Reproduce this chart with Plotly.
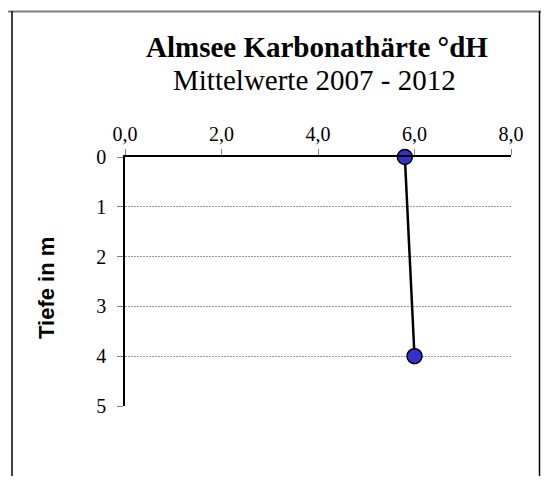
import plotly.graph_objects as go

# Almsee Karbonathärte, Mittelwerte 2007 - 2012
tiefe = [0, 4]              # m
karbonathaerte = [5.8, 6.0]  # °dH

x_ticks = [0, 2, 4, 6, 8]
x_labels = ["0,0", "2,0", "4,0", "6,0", "8,0"]
y_ticks = [0, 1, 2, 3, 4, 5]

# the page body has an 8px margin, so the figure starts at (8, 8) in the window;
# keep it small enough that the page does not scroll
OFF = 8
W, H = 549 - OFF, 484 - 2 * OFF
ml, mr, mt = 125 - OFF, 38, 156.5 - OFF
mb = H - mt - 250
pw, ph = W - ml - mr, H - mt - mb


def px(x):
    return (x - OFF - ml) / pw


def py(y):
    return 1 - (y - OFF - mt) / ph


serif = "Liberation Serif, Times New Roman, serif"
sans = "Liberation Sans, Arial, sans-serif"

fig = go.Figure()
fig.add_trace(go.Scatter(
    x=karbonathaerte, y=tiefe, mode="lines+markers",
    line=dict(color="black", width=2.5),
    marker=dict(size=15, color="#3333CC", line=dict(color="black", width=1.5)),
    cliponaxis=False, showlegend=False,
))

fig.update_layout(
    width=W, height=H,
    margin=dict(l=ml, r=mr, t=mt, b=mb, pad=0),
    paper_bgcolor="white", plot_bgcolor="white",
    xaxis=dict(
        side="top", range=[0, 8], tickvals=x_ticks, ticktext=x_labels,
        showgrid=False, zeroline=False, showline=True, linecolor="black", linewidth=1.5,
        ticks="outside", ticklen=6, tickcolor="#808080", tickwidth=1,
        tickfont=dict(family=serif, size=20, color="black"), ticklabelstandoff=0,
    ),
    yaxis=dict(
        range=[5, 0], tickvals=y_ticks, showgrid=True, gridcolor="#999999", gridwidth=1.2,
        griddash="2px,1px", zeroline=False, showline=True, linecolor="black", linewidth=1.5,
        ticks="outside", ticklen=6, tickcolor="#808080", tickwidth=1,
        tickfont=dict(family=serif, size=20, color="black"), ticklabelstandoff=7,
    ),
    annotations=[
        dict(text="<b>Almsee Karbonathärte °dH</b>", x=px(317), y=py(46), xref="paper", yref="paper",
             showarrow=False, xanchor="center", yanchor="middle",
             font=dict(family=serif, size=29, color="black")),
        dict(text="Mittelwerte 2007 - 2012", x=px(314), y=py(79), xref="paper", yref="paper",
             showarrow=False, xanchor="center", yanchor="middle",
             font=dict(family=serif, size=29, color="black")),
        dict(text="<b>Tiefe in m</b>", x=px(47), y=py(288), xref="paper", yref="paper",
             showarrow=False, xanchor="center", yanchor="middle", textangle=-90,
             font=dict(family=sans, size=22, color="black")),
    ],
    shapes=[
        dict(type="line", xref="paper", yref="paper", x0=px(0), x1=px(549), y0=py(10.5), y1=py(10.5),
             line=dict(color="#808080", width=2)),
        dict(type="line", xref="paper", yref="paper", x0=px(12), x1=px(12), y0=py(10), y1=py(490),
             line=dict(color="black", width=1.5)),
        dict(type="line", xref="paper", yref="paper", x0=px(539.5), x1=px(539.5), y0=py(10), y1=py(490),
             line=dict(color="black", width=1.5)),
    ],
)

fig.write_html("out.html")
